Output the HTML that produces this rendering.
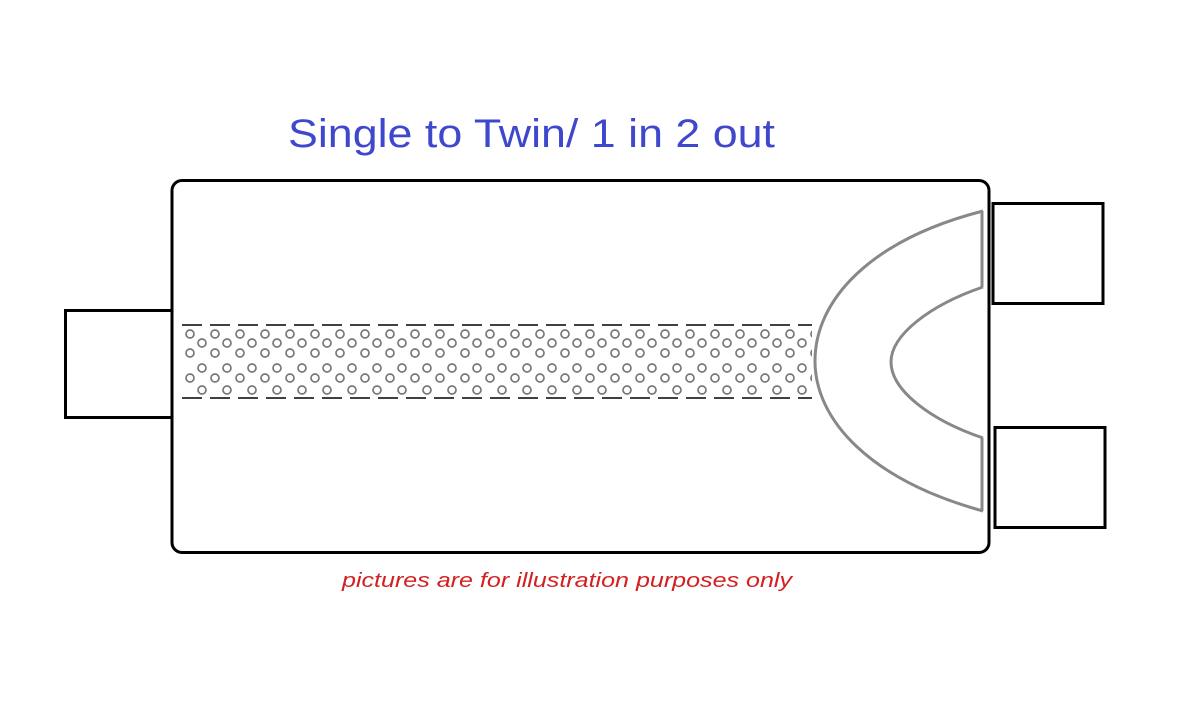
<!DOCTYPE html>
<html><head><meta charset="utf-8"><style>
html,body{margin:0;padding:0;background:#fff;width:1200px;height:707px;overflow:hidden}
</style></head><body>
<svg width="1200" height="707" viewBox="0 0 1200 707" xmlns="http://www.w3.org/2000/svg">
<defs>
<pattern id="holes" x="182" y="328" width="50" height="70" patternUnits="userSpaceOnUse">
<g fill="none" stroke="#777" stroke-width="1.7">
<circle cx="8" cy="6" r="4"/><circle cx="33" cy="6" r="4"/>
<circle cx="20" cy="15" r="4"/><circle cx="45" cy="15" r="4"/>
<circle cx="8" cy="25" r="4"/><circle cx="33" cy="25" r="4"/>
<circle cx="20" cy="40" r="4"/><circle cx="45" cy="40" r="4"/>
<circle cx="8" cy="50" r="4"/><circle cx="33" cy="50" r="4"/>
<circle cx="20" cy="62" r="4"/><circle cx="45" cy="62" r="4"/>
</g>
</pattern>
</defs>
<text x="288" y="147" font-family="Liberation Sans, sans-serif" font-size="40" fill="#3f48cc" textLength="487" lengthAdjust="spacingAndGlyphs">Single to Twin/ 1 in 2 out</text>
<rect x="65.5" y="310.5" width="107" height="107" fill="none" stroke="#000" stroke-width="3"/>
<rect x="993" y="203.5" width="110" height="100" fill="#fff" stroke="#000" stroke-width="3"/>
<rect x="995" y="427.5" width="110" height="100" fill="#fff" stroke="#000" stroke-width="3"/>
<rect x="172" y="180.5" width="817" height="372" rx="10" fill="#fff" stroke="#000" stroke-width="3"/>
<rect x="182" y="328" width="630" height="68" fill="url(#holes)"/>
<line x1="182" y1="325" x2="812" y2="325" stroke="#000" stroke-width="1.5" stroke-dasharray="20,8"/>
<line x1="182" y1="398" x2="812" y2="398" stroke="#000" stroke-width="1.5" stroke-dasharray="20,8"/>
<g fill="none" stroke="#888" stroke-width="3">
<path d="M983 211 C 870 240 815 300 815 361 C 815 420 870 480 983 511"/>
<path d="M983 287 C 930 305 891 335 891 362 C 891 390 930 420 983 438"/>
<line x1="982" y1="211" x2="982" y2="287"/>
<line x1="982" y1="438" x2="982" y2="511"/>
</g>
<text x="342" y="587" font-family="Liberation Sans, sans-serif" font-style="italic" font-size="20" fill="#d42020" textLength="450" lengthAdjust="spacingAndGlyphs">pictures are for illustration purposes only</text>
</svg>
</body></html>
